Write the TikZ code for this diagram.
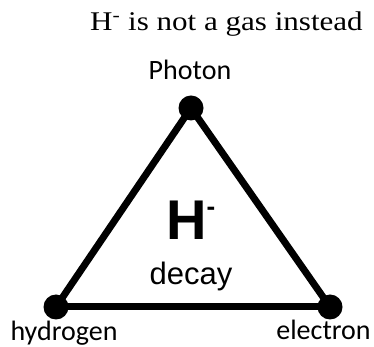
\documentclass[tikz,border=0pt]{standalone}
\usepackage{fontspec}
\setmainfont{Liberation Serif}
\newfontfamily\calib{Carlito}
\newfontfamily\arialf{Liberation Sans}
\begin{document}
\begin{tikzpicture}[x=1pt,y=1pt,
  dot/.style={circle,fill=black,inner sep=0pt,minimum size=25pt},
  edge/.style={line width=7pt},
  lbl/.style={inner sep=0pt,anchor=base,font=\calib\fontsize{28}{28}\selectfont}]
\useasboundingbox (0,0) rectangle (374,347);
\node[dot] (ph) at (191,239) {};
\node[dot] (hy) at (56,40) {};
\node[dot] (el) at (330,40) {};
\draw[edge] (ph.center) -- (hy.center);
\draw[edge] (ph.center) -- (el.center);
\draw[edge] (hy.center) -- (el.center);
\node[inner sep=0pt,anchor=base west,font=\fontsize{27}{27}\selectfont] (title) at (90,316) {\scalebox{1.15}[1]{H\textsuperscript{-} is not a gas instead}};
\node[lbl] (tph) at (190,267) {Photon};
\node[lbl] (thy) at (64,6) {hydrogen};
\node[lbl] (tel) at (323.5,7) {electron};
\node[inner sep=0pt,anchor=base west,font=\arialf\bfseries\fontsize{56}{56}\selectfont] (hm) at (166,107) {H\raisebox{24pt}{\fontsize{26}{26}\selectfont -}};
\node[inner sep=0pt,anchor=base,font=\arialf\fontsize{31}{31}\selectfont] (dec) at (191,62) {decay};
\end{tikzpicture}
\end{document}
